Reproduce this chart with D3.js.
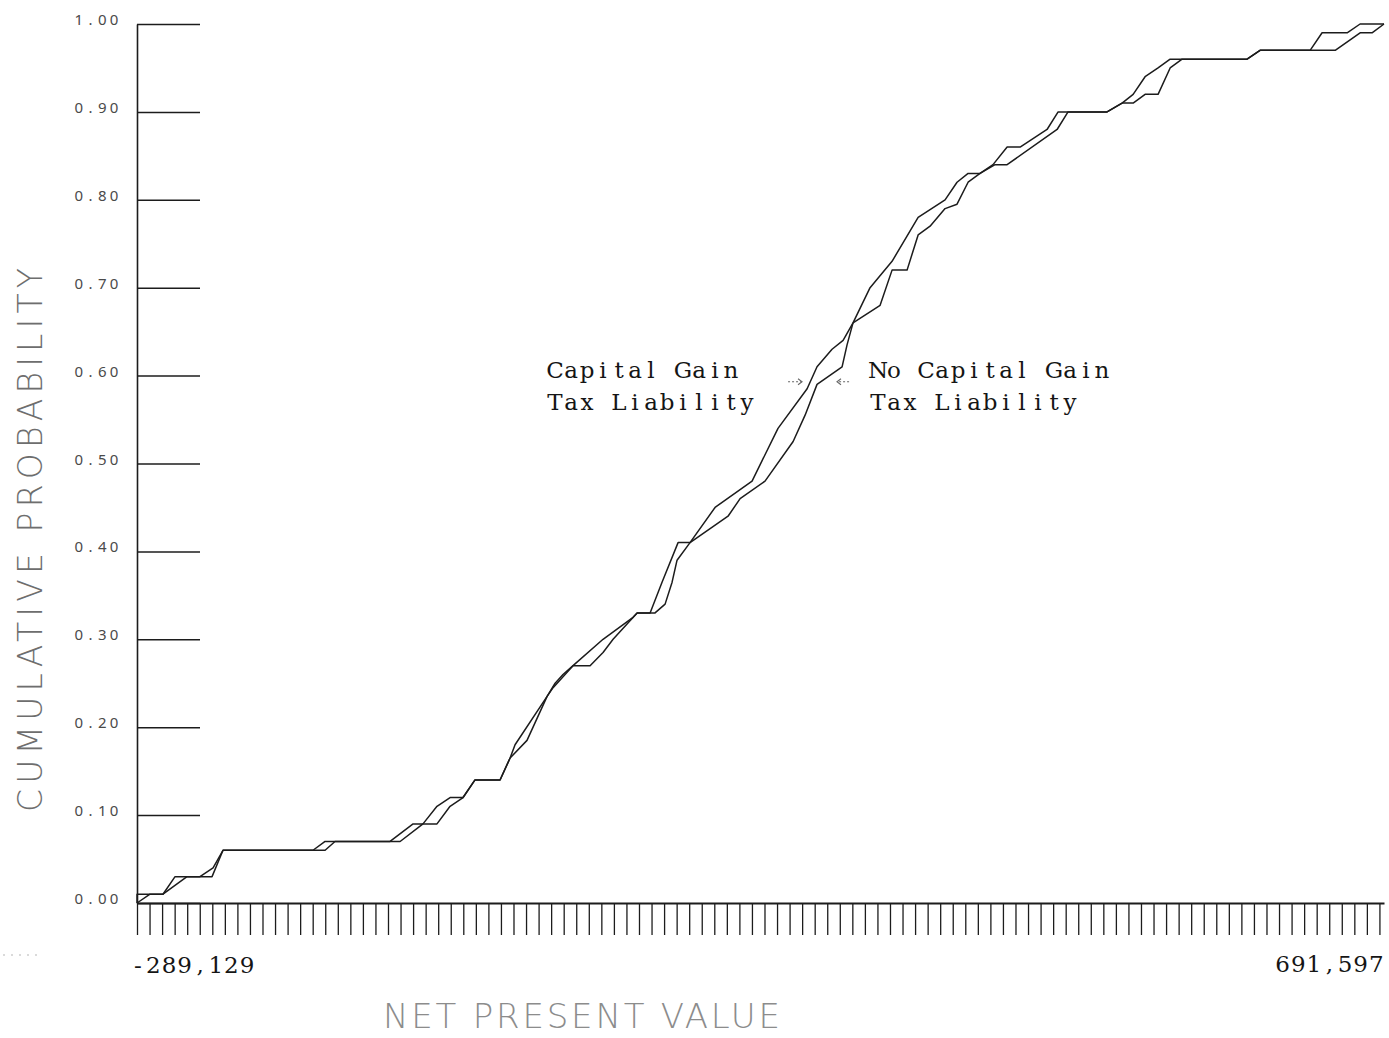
<!DOCTYPE html>
<html>
<head>
<meta charset="utf-8">
<script src="https://cdn.jsdelivr.net/npm/d3@7"></script>
<style>
  body { margin: 0; background: #fff; }
  svg { display: block; }
</style>
</head>
<body>
<svg id="chart" width="1389" height="1038"></svg>
<script>
// Net present value in thousands of dollars; cumulative probability 0..1
const npvMin = -289.129;
const npvMax = 691.597;

// With capital gain tax liability
const capGainNpv = [
  -289.1, -289.1, -268.7, -259.2, -239.6, -229.3, -221.5, -150.7, -141.2, -90.1,
  -72.0, -64.2, -53.2, -42.9, -32.7, -23.3, -3.6, 4.3, 8.2, 33.4,
  39.7, 45.9, 53.8, 77.4, 101.0, 104.2, 114.4, 123.8, 136.4, 145.8,
  165.5, 194.6, 215.0, 237.9, 245.7, 257.5, 266.2, 274.0, 287.4, 304.7,
  325.2, 346.4, 355.8, 364.5, 373.9, 384.1, 395.2, 405.4, 426.6, 435.3,
  473.8, 485.6, 494.3, 503.7, 513.9, 523.4, 532.8, 583.9, 594.1, 633.5,
  642.9, 662.6, 672.8, 691.6
];
const capGainProb = [
  0.00, 0.01, 0.01, 0.03, 0.03, 0.04, 0.06, 0.06, 0.07, 0.07,
  0.09, 0.09, 0.11, 0.12, 0.12, 0.14, 0.14, 0.165, 0.18, 0.235,
  0.25, 0.26, 0.27, 0.30, 0.325, 0.33, 0.33, 0.365, 0.41, 0.41,
  0.45, 0.48, 0.54, 0.585, 0.61, 0.63, 0.64, 0.66, 0.70, 0.73,
  0.78, 0.80, 0.82, 0.83, 0.83, 0.84, 0.86, 0.86, 0.88, 0.90,
  0.90, 0.91, 0.92, 0.94, 0.95, 0.96, 0.96, 0.96, 0.97, 0.97,
  0.99, 0.99, 1.00, 1.00
];

// Without capital gain tax liability
const noCapGainNpv = [
  -289.1, -278.9, -268.7, -249.8, -230.1, -221.5, -150.7, -141.2, -133.4, -82.2,
  -64.2, -53.2, -42.9, -32.7, -23.3, -3.6, 4.3, 17.6, 33.4, 38.1,
  53.8, 67.2, 77.4, 85.3, 104.2, 118.3, 126.2, 131.7, 135.6, 145.8,
  175.7, 185.2, 204.8, 226.9, 236.3, 245.7, 265.4, 269.3, 274.0, 295.3,
  304.7, 316.5, 325.2, 334.6, 346.4, 355.8, 364.5, 373.9, 385.7, 395.2,
  434.5, 443.1, 473.8, 485.6, 494.3, 503.7, 513.9, 523.4, 532.8, 583.9,
  594.1, 633.5, 653.2, 672.8, 682.2, 691.6
];
const noCapGainProb = [
  0.00, 0.01, 0.01, 0.03, 0.03, 0.06, 0.06, 0.06, 0.07, 0.07,
  0.09, 0.09, 0.11, 0.12, 0.14, 0.14, 0.165, 0.185, 0.235, 0.245,
  0.27, 0.27, 0.285, 0.30, 0.33, 0.33, 0.34, 0.365, 0.39, 0.41,
  0.44, 0.46, 0.48, 0.525, 0.555, 0.59, 0.61, 0.635, 0.66, 0.68,
  0.72, 0.72, 0.76, 0.77, 0.79, 0.795, 0.82, 0.83, 0.84, 0.84,
  0.88, 0.90, 0.90, 0.91, 0.91, 0.92, 0.92, 0.95, 0.96, 0.96,
  0.97, 0.97, 0.97, 0.99, 0.99, 1.00
];

const probTicks = [0, 0.1, 0.2, 0.3, 0.4, 0.5, 0.6, 0.7, 0.8, 0.9, 1.0];
const xTickCount = 100;
const xTickStep = 9.87;
const xEndLabels = ["-289,129", "691,597"];
const yTitle = "CUMULATIVE PROBABILITY";
const xTitle = "NET PRESENT VALUE";
const capGainLabel = ["Capital Gain", "Tax Liability"];
const noCapGainLabel = ["No Capital Gain", "Tax Liability"];
// anchor point of the pointer marks, in data units
const pointerProb = 0.593;
const capGainPointer = [222.9, 233.9];
const noCapGainPointer = [270.9, 261.4];

const W = 1389, H = 1038;
const svg = d3.select("#chart");
svg.append("rect").attr("width", W).attr("height", H).attr("fill", "#fff");

const x = d3.scaleLinear().domain([npvMin, npvMax]).range([137, 1384]);
const y = d3.scaleLinear().domain([0, 1]).range([903, 24]);

const ink = "#1c1c1c";

// place each character in a fixed-pitch cell (typewriter / plotter look)
function pitchText(g, str, xLeft, yBase, pitch) {
  const xs = Array.from(str).map((c, i) => (xLeft + pitch * (i + 0.5)).toFixed(1));
  return g.append("text")
    .attr("x", xs.join(" "))
    .attr("y", yBase)
    .attr("text-anchor", "middle")
    .text(str);
}

// ---- y axis: vertical line with short tick bars to the right
const yAxis = d3.axisRight(y)
  .tickValues(probTicks)
  .tickSize(63)
  .tickSizeOuter(0)
  .tickFormat("");
const gy = svg.append("g").attr("transform", `translate(${x(npvMin)},0)`).call(yAxis);
gy.select(".domain").attr("stroke", ink).attr("stroke-width", 1.6);
gy.selectAll(".tick line").attr("stroke", ink).attr("stroke-width", 1.5);

// y tick labels
const gyl = svg.append("g")
  .attr("font-family", "'Noto Sans', sans-serif")
  .attr("font-size", 15)
  .attr("fill", "#4a4a4a");
const fmt = d3.format(".2f");
probTicks.forEach(t => {
  const s = fmt(t);
  pitchText(gyl, s, x(npvMin) - 17 - s.length * 11.8, y(t) + 1, 11.8);
});

// ---- x axis: long comb of tick marks
const xTickValues = d3.range(xTickCount).map(i => npvMin + i * xTickStep);
const xAxis = d3.axisBottom(x)
  .tickValues(xTickValues)
  .tickSize(32)
  .tickSizeOuter(0)
  .tickFormat("");
const gx = svg.append("g").attr("transform", `translate(0,${y(0)})`).call(xAxis);
gx.select(".domain").attr("stroke", ink).attr("stroke-width", 2);
gx.selectAll(".tick line").attr("stroke", ink).attr("stroke-width", 1.3);

// end labels of the x axis
const gxl = svg.append("g")
  .attr("font-family", "'DejaVu Serif', serif")
  .attr("font-size", 23)
  .attr("fill", "#151515");
pitchText(gxl, xEndLabels[0], x(npvMin) - 7, y(0) + 70, 15.6);
pitchText(gxl, xEndLabels[1], x(npvMax) - xEndLabels[1].length * 15.6, y(0) + 69, 15.6);

// ---- axis titles
svg.append("text")
  .attr("transform", `translate(42,540) rotate(-90)`)
  .attr("text-anchor", "middle")
  .attr("font-family", "'DejaVu Sans', sans-serif")
  .attr("font-weight", 200)
  .attr("font-size", 33)
  .attr("fill", "#6e6e6e")
  .attr("textLength", 544)
  .attr("lengthAdjust", "spacing")
  .text(yTitle);

svg.append("text")
  .attr("x", 383)
  .attr("y", 1028)
  .attr("font-family", "'DejaVu Sans', sans-serif")
  .attr("font-weight", 200)
  .attr("font-size", 34)
  .attr("fill", "#8c8c8c")
  .attr("textLength", 397)
  .attr("lengthAdjust", "spacing")
  .text(xTitle);

// ---- the two cumulative distribution curves
const line = d3.line().x(d => x(d[0])).y(d => y(d[1]));
const series = [
  d3.zip(capGainNpv, capGainProb),
  d3.zip(noCapGainNpv, noCapGainProb)
];
svg.append("g").selectAll("path")
  .data(series)
  .join("path")
  .attr("d", line)
  .attr("fill", "none")
  .attr("stroke", ink)
  .attr("stroke-width", 1.5)
  .attr("stroke-linejoin", "round");

// ---- curve labels
const gl = svg.append("g")
  .attr("font-family", "'DejaVu Serif', serif")
  .attr("font-size", 23)
  .attr("fill", "#151515");
capGainLabel.forEach((s, i) => pitchText(gl, s, 547, 378 + i * 32, 16));
noCapGainLabel.forEach((s, i) => pitchText(gl, s, 870, 378 + i * 32, 16));

// ---- small pointer marks between the labels and the curves
function pointer(xs) {
  const x0 = x(xs[0]), x1 = x(xs[1]), py = y(pointerProb);
  const dir = Math.sign(x1 - x0);
  const g = svg.append("g").attr("stroke", "#666").attr("stroke-width", 1.1).attr("fill", "none");
  g.append("line").attr("x1", x0).attr("y1", py).attr("x2", x1).attr("y2", py)
    .attr("stroke-dasharray", "2,2");
  g.append("path").attr("d", `M${x1 - dir * 4},${py - 3}L${x1},${py}L${x1 - dir * 4},${py + 3}`);
}
pointer(capGainPointer);
pointer(noCapGainPointer);

// faint dotted rule at the lower left margin
svg.append("line")
  .attr("x1", 3).attr("x2", 43).attr("y1", 955).attr("y2", 955)
  .attr("stroke", "#b5b5b5").attr("stroke-width", 1).attr("stroke-dasharray", "2,6");
</script>
</body>
</html>
